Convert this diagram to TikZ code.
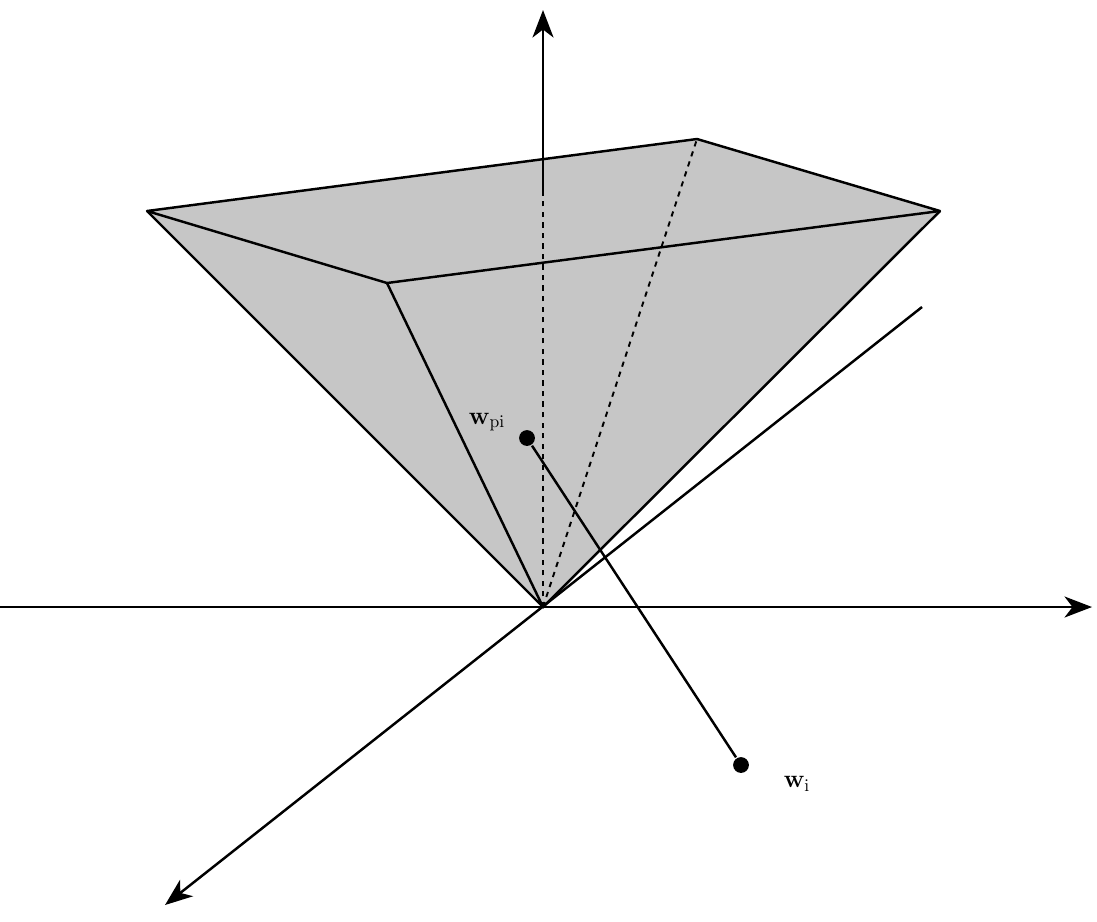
\documentclass[tikz,border=0pt]{standalone}
\usetikzlibrary{arrows.meta}
\begin{document}
\begin{tikzpicture}[x=0.02cm,y=-0.02cm,line width=1.4pt,
  ax/.style={-{Stealth[length=5.5mm,width=4.2mm,inset=1.6mm]}},
  dot/.style={circle,fill=black,inner sep=0pt,minimum size=9pt}]
\useasboundingbox (0,0) rectangle (1097,921);
\coordinate (O) at (543,607);
\coordinate (A) at (147,211);
\coordinate (B) at (697,139);
\coordinate (C) at (940,211);
\coordinate (D) at (387,283);
\fill[gray!45] (A)--(B)--(C)--(O)--cycle;
\draw[line join=round] (A)--(B)--(C)--(D)--cycle;
\draw (A)--(O)--(C) (D)--(O);
\draw[dashed,line width=1.1pt] (O)--(B);
\draw[dashed,line width=1.1pt] (O)--(543,195);
\coordinate (ytop) at (543,10);
\coordinate (ybase) at (543,195);
\draw[ax] (ybase)--(ytop);
\coordinate (xl) at (0,607);
\coordinate (xr) at (1092,607);
\draw[ax] (xl)--(xr);
\coordinate (zr) at (922,307);
\coordinate (zl) at (165,905);
\draw[ax] (zr)--(zl);
\node[dot] (wp) at (527,438) {};
\node[dot] (wi) at (741,765) {};
\draw (wp)--(wi);
\node (lp) at (487,422) {\Large$\mathbf{w}_{\mathrm{pi}}$};
\node (li) at (797,784) {\Large$\mathbf{w}_{\mathrm{i}}$};
\end{tikzpicture}
\end{document}
